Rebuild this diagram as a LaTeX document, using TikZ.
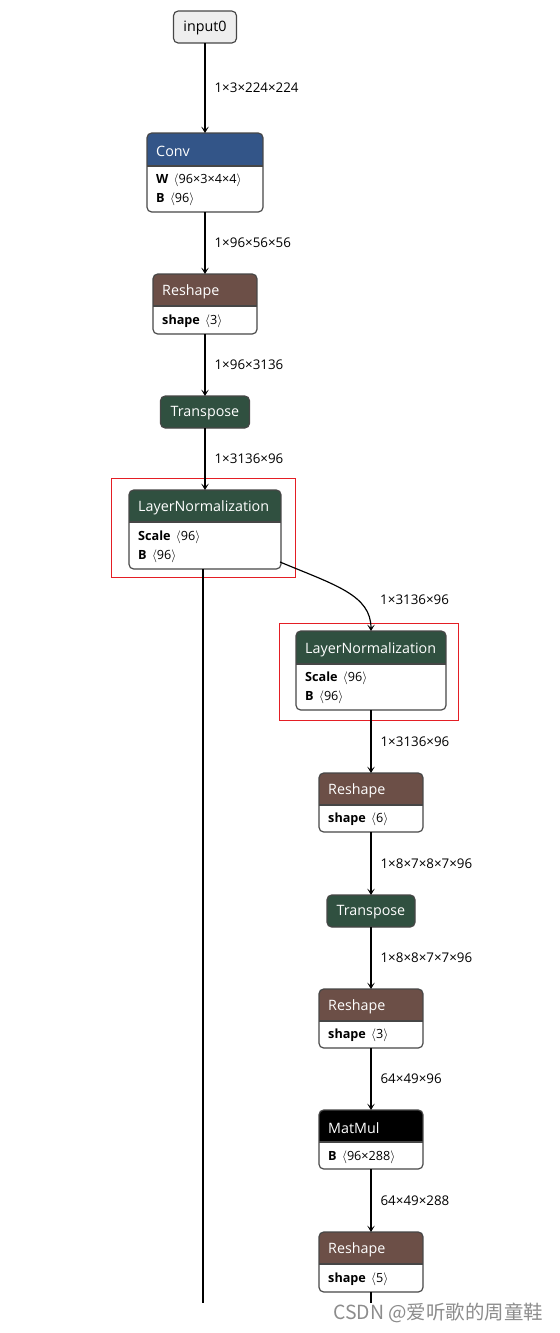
\documentclass[tikz,border=0pt]{standalone}
\usepackage{fontspec}
\setmainfont{Open Sans}
\newfontfamily\cjkfont{Noto Sans CJK SC}
\usetikzlibrary{arrows.meta}

\definecolor{layercol}{RGB}{51,85,136}
\definecolor{shapecol}{RGB}{108,79,71}
\definecolor{transcol}{RGB}{48,80,64}
\definecolor{inputcol}{RGB}{238,238,238}
\definecolor{framecol}{RGB}{70,70,70}
\definecolor{markred}{RGB}{228,30,36}
\definecolor{wmarkcol}{RGB}{140,140,140}

\newcommand{\px}{0.03cm}
\newcommand{\gap}{\hspace{4.5pt}}

\tikzset{
  opbox/.style={rectangle, draw=none, fill=white, inner sep=0, outer sep=0},
  opframe/.style={draw=framecol, line width=1pt, rounded corners=4pt},
  optitle/.style={anchor=west, inner sep=0, text=white, font=\fontsize{12.2}{14}\selectfont},
  simple/.style={rectangle, draw=framecol, line width=1pt, rounded corners=4pt, inner sep=0, outer sep=0, text height=11pt, text depth=3pt, font=\fontsize{12.2}{14}\selectfont},
  attr/.style={anchor=west, inner sep=0, font=\fontsize{10.8}{12}\selectfont},
  dim/.style={anchor=west, inner sep=0, xshift=9*\px, font=\fontsize{11.4}{13}\selectfont},
  flow/.style={line width=1pt, -{Stealth[length=5.5pt, width=6.5pt, inset=2.8pt]}},
}

% header + body box: name, cx, cy, width, height, header height, colour, title
\newcommand{\opnode}[8]{%
  \node[opbox, minimum width=#4*\px, minimum height=#5*\px] (#1) at (#2,#3) {};
  \begin{scope}
    \clip[rounded corners=4pt] (#1.south west) rectangle (#1.north east);
    \fill[#7] (#1.north west) rectangle ([yshift=-#6*\px]#1.north east);
  \end{scope}
  \draw[framecol, line width=1pt] ([yshift=-#6*\px]#1.north west) -- ([yshift=-#6*\px]#1.north east);
  \draw[opframe] (#1.south west) rectangle (#1.north east);
  \node[optitle] (#1-title) at ([xshift=9*\px, yshift=-#6*\px/2-2*\px]#1.north west) {#8};}

\begin{document}
\begin{tikzpicture}[x=0.03cm, y=-0.03cm]
  \useasboundingbox (0,0) rectangle (560,1333);

  % left column
  \node[simple, fill=inputcol, minimum width=63*\px, minimum height=32*\px] (input0) at (205,27) {input0};

  \opnode{conv}{205}{172.5}{116}{79}{33}{layercol}{Conv}
  \node[attr] (conv-w) at ([xshift=9*\px, yshift=-47*\px]conv.north west) {\textbf{W}\gap$\langle$96×3×4×4$\rangle$};
  \node[attr] (conv-b) at ([xshift=9*\px, yshift=-66*\px]conv.north west) {\textbf{B}\gap$\langle$96$\rangle$};

  \opnode{reshape1}{205}{304}{104}{60}{32}{shapecol}{Reshape}
  \node[attr] (reshape1-s) at ([xshift=9*\px, yshift=-47*\px]reshape1.north west) {\textbf{shape}\gap$\langle$3$\rangle$};

  \node[simple, fill=transcol, text=white, minimum width=89*\px, minimum height=32*\px] (transpose1) at (205,412) {Transpose};

  \opnode{ln1}{205}{529.5}{152}{79}{32}{transcol}{LayerNormalization}
  \node[attr] (ln1-s) at ([xshift=9*\px, yshift=-47*\px]ln1.north west) {\textbf{Scale}\gap$\langle$96$\rangle$};
  \node[attr] (ln1-b) at ([xshift=9*\px, yshift=-66*\px]ln1.north west) {\textbf{B}\gap$\langle$96$\rangle$};

  % right column
  \opnode{ln2}{371}{670.5}{150}{79}{33}{transcol}{LayerNormalization}
  \node[attr] (ln2-s) at ([xshift=9*\px, yshift=-47*\px]ln2.north west) {\textbf{Scale}\gap$\langle$96$\rangle$};
  \node[attr] (ln2-b) at ([xshift=9*\px, yshift=-66*\px]ln2.north west) {\textbf{B}\gap$\langle$96$\rangle$};

  \opnode{reshape2}{371}{802.5}{104}{59}{32}{shapecol}{Reshape}
  \node[attr] (reshape2-s) at ([xshift=9*\px, yshift=-46*\px]reshape2.north west) {\textbf{shape}\gap$\langle$6$\rangle$};

  \node[simple, fill=transcol, text=white, minimum width=88*\px, minimum height=32*\px] (transpose2) at (371,911) {Transpose};

  \opnode{reshape3}{371}{1018.5}{104}{59}{32}{shapecol}{Reshape}
  \node[attr] (reshape3-s) at ([xshift=9*\px, yshift=-46*\px]reshape3.north west) {\textbf{shape}\gap$\langle$3$\rangle$};

  \opnode{matmul}{371}{1139.5}{104}{59}{32}{black}{MatMul}
  \node[attr] (matmul-b) at ([xshift=9*\px, yshift=-47*\px]matmul.north west) {\textbf{B}\gap$\langle$96×288$\rangle$};

  \opnode{reshape4}{371}{1262}{104}{60}{32}{shapecol}{Reshape}
  \node[attr] (reshape4-s) at ([xshift=9*\px, yshift=-47*\px]reshape4.north west) {\textbf{shape}\gap$\langle$5$\rangle$};

  % highlight frames
  \draw[markred, line width=0.8pt] (111,478) rectangle (295,577);
  \draw[markred, line width=0.8pt] (279,623) rectangle (458,720);

  % connectors
  \draw[flow] (input0) -- node[dim] {1×3×224×224} (conv);
  \draw[flow] (conv) -- node[dim] {1×96×56×56} (reshape1);
  \draw[flow] (reshape1) -- node[dim] {1×96×3136} (transpose1);
  \draw[flow] (transpose1) -- node[dim] {1×3136×96} (ln1);
  \draw[flow] ([xshift=-1*\px, yshift=7*\px]ln1.south east) .. controls (335,585) and (371,595) .. (ln2.north);
  \node[dim, xshift=-9*\px] (ln-dim) at (380,600) {1×3136×96};
  \coordinate (skipend) at (203,1303);
  \draw[line width=1pt] ([xshift=-2*\px]ln1.south) -- (skipend);
  \draw[flow] (ln2) -- node[dim] {1×3136×96} (reshape2);
  \draw[flow] (reshape2) -- node[dim] {1×8×7×8×7×96} (transpose2);
  \draw[flow] (transpose2) -- node[dim] {1×8×8×7×7×96} (reshape3);
  \draw[flow] (reshape3) -- node[dim] {64×49×96} (matmul);
  \draw[flow] (matmul) -- node[dim] {64×49×288} (reshape4);
  \coordinate (tailend) at (371,1303);
  \draw[line width=1pt] (reshape4) -- (tailend);

  % watermark
  \node[anchor=west, inner sep=0, text=wmarkcol, font=\cjkfont\fontsize{16.6}{18}\selectfont] (wmark) at (333,1313) {CSDN @爱听歌的周童鞋};
\end{tikzpicture}
\end{document}
